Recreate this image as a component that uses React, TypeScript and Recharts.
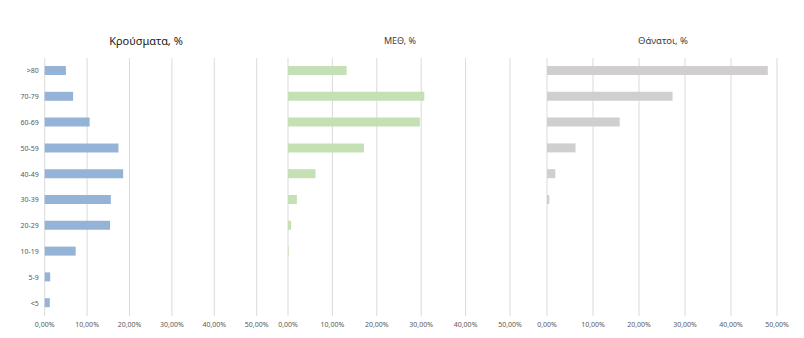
import { BarChart, Bar, XAxis, YAxis, CartesianGrid } from 'recharts';

const ageGroups = ['>80', '70-79', '60-69', '50-59', '40-49', '30-39', '20-29', '10-19', '5-9', '<5'];
const casesPct = [5.0, 6.7, 10.6, 17.4, 18.5, 15.6, 15.4, 7.3, 1.3, 1.2];
const icuPct = [13.2, 30.7, 29.7, 17.1, 6.2, 2.0, 0.7, 0.15, 0, 0];
const deathsPct = [48.0, 27.3, 15.8, 6.2, 1.8, 0.5, 0, 0, 0, 0];
const xTicks = [0, 10, 20, 30, 40, 50];

const casesData = ageGroups.map((age, i) => ({ age, value: casesPct[i] }));
const icuData = ageGroups.map((age, i) => ({ age, value: icuPct[i] }));
const deathsData = ageGroups.map((age, i) => ({ age, value: deathsPct[i] }));

const font = '"Noto Sans", sans-serif';
const fmt = (v: number) => `${v.toFixed(2).replace('.', ',')}%`;

interface PanelProps {
  data: Array<{ age: string; value: number }>;
  left: number;
  width: number;
  plotLeft: number;
  plotRight: number;
  color: string;
  showCategories?: boolean;
}

function Panel({ data, left, width, plotLeft, plotRight, color, showCategories }: PanelProps) {
  return (
    <div style={{ position: 'absolute', left, top: 0 }}>
      <BarChart
        width={width}
        height={338}
        data={data}
        layout="vertical"
        margin={{ top: 58, right: width - plotRight, bottom: 0, left: showCategories ? 0 : plotLeft }}
      >
        <CartesianGrid horizontal={false} stroke="#dadada" />
        <XAxis
          type="number"
          domain={[0, 50]}
          ticks={xTicks}
          tickFormatter={fmt}
          axisLine={false}
          tickLine={false}
          tickSize={6}
          tickMargin={0}
          height={22}
          tick={{ fontSize: 7, fill: '#595959', fontFamily: font }}
          interval={0}
        />
        <YAxis
          type="category"
          dataKey="age"
          hide={!showCategories}
          width={plotLeft}
          axisLine={false}
          tickLine={false}
          tickSize={6}
          tickMargin={0}
          interval={0}
          tick={{ fontSize: 7, fill: '#595959', fontFamily: font }}
        />
        <Bar dataKey="value" fill={color} barSize={9} isAnimationActive={false} />
      </BarChart>
    </div>
  );
}

export default function App() {
  const titleStyle = (center: number, top: number, size: number, color: string): React.CSSProperties => ({
    position: 'absolute',
    left: center - 100,
    width: 200,
    top,
    textAlign: 'center',
    fontFamily: font,
    fontSize: size,
    color,
    whiteSpace: 'nowrap',
    lineHeight: 1,
  });

  return (
    <div style={{ position: 'absolute', left: 0, top: 0, width: 804, height: 338, background: '#fff', overflow: 'hidden' }}>
      <Panel data={casesData} left={0} width={270} plotLeft={44.7} plotRight={256.7} color="#95b3d7" showCategories />
      <Panel data={icuData} left={270} width={260} plotLeft={18} plotRight={240} color="#c5e0b4" />
      <Panel data={deathsData} left={530} width={274} plotLeft={17} plotRight={247} color="#d0cece" />
      <div style={titleStyle(146, 35, 11, '#1a1a1a')}>Κρούσματα, %</div>
      <div style={titleStyle(400, 36, 9, '#404040')}>ΜΕΘ, %</div>
      <div style={titleStyle(663, 36, 9.5, '#404040')}>Θάνατοι, %</div>
    </div>
  );
}
